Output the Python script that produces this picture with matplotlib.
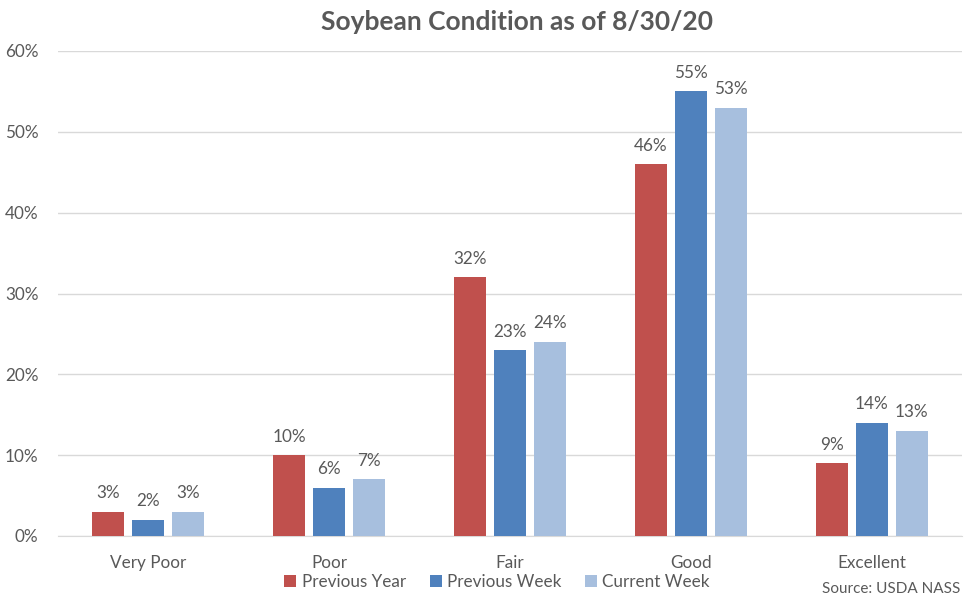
import matplotlib
matplotlib.use("Agg")
import matplotlib.pyplot as plt
import numpy as np
from matplotlib.ticker import FuncFormatter

categories = ["Very Poor", "Poor", "Fair", "Good", "Excellent"]
previous_year = [3, 10, 32, 46, 9]
previous_week = [2, 6, 23, 55, 14]
current_week = [3, 7, 24, 53, 13]
series_names = ["Previous Year", "Previous Week", "Current Week"]
colors = ["#C0504D", "#4F81BD", "#A7BFDE"]
yticks = [0, 10, 20, 30, 40, 50, 60]

plt.rcParams['font.family'] = ['Lato', 'DejaVu Sans']
txt = "#595959"

fig = plt.figure(figsize=(9.75, 6.01), dpi=100)
ax = fig.add_axes([58/975, 1-536/601, 904/975, 485/601])

x = np.arange(len(categories))
w = 0.177
pitch = 0.221
for i, (vals, name, c) in enumerate(zip([previous_year, previous_week, current_week], series_names, colors)):
    pos = x + (i - 1) * pitch
    ax.bar(pos, vals, width=w, color=c, label=name, zorder=3)
    for p, v in zip(pos, vals):
        ax.text(p, v + 1.3, f"{v}%", ha="center", va="bottom", fontsize=12.3, color=txt)

ax.set_xlim(-0.5, len(categories) - 0.5)
ax.set_ylim(0, 60)
ax.set_yticks(yticks)
ax.yaxis.set_major_formatter(FuncFormatter(lambda v, p: f"{int(v)}%"))
ax.set_xticks(x)
ax.set_xticklabels(categories)
ax.tick_params(axis="both", length=0, labelsize=12.3, labelcolor=txt)
ax.tick_params(axis="x", pad=14)
ax.tick_params(axis="y", pad=14)
ax.grid(axis="y", color="#D9D9D9", linewidth=1, zorder=0)
for s in ["top", "right", "left"]:
    ax.spines[s].set_visible(False)
ax.spines["bottom"].set_color("#D9D9D9")

fig.text(517/975, 1 - 22/601, "Soybean Condition as of 8/30/20", ha="center", va="center",
         fontsize=19, fontweight="bold", color=txt)

leg = fig.legend(loc="center", bbox_to_anchor=(497/975, 1 - 582/601), ncol=3, frameon=False,
                 fontsize=12.3, handlelength=0.7, handleheight=0.7, handletextpad=0.3,
                 columnspacing=1.4, labelcolor=txt)
fig.text(960/975, 1 - 589/601, "Source: USDA NASS", ha="right", va="center", fontsize=11, color=txt)

fig.savefig("out.png", dpi=100)
